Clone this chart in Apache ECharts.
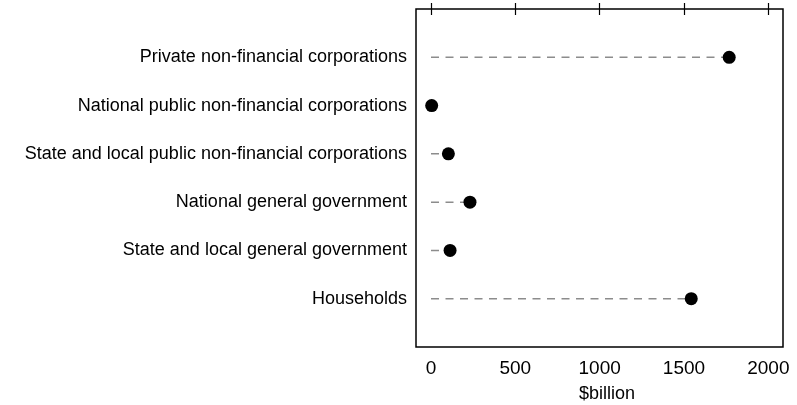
<!DOCTYPE html>
<html><head><meta charset="utf-8">
<script src="https://cdn.jsdelivr.net/npm/echarts@6/dist/echarts.min.js"></script>
<style>html,body{margin:0;padding:0;background:#fff}#c{width:797px;height:405px}</style>
</head><body><div id="c"></div>
<script>
const categories = [
  "Private non-financial corporations",
  "National public non-financial corporations",
  "State and local public non-financial corporations",
  "National general government",
  "State and local general government",
  "Households"
];
const values = [1768, 4, 103, 231, 113, 1543];
const xTicks = [0, 500, 1000, 1500, 2000];

const FONT = '"Liberation Sans", Arial, sans-serif';
const pts = values.map((v, i) => [v, i + 1]);

const chart = echarts.init(document.getElementById('c'), null, {renderer: 'canvas'});
chart.setOption({
  animation: false,
  grid: {left: 416, right: 14, top: 9, bottom: 58, show: true, borderColor: '#000', borderWidth: 1.5,
         containLabel: false, outerBoundsMode: 'none'},
  xAxis: [{
    type: 'value', min: -89, max: 2087, position: 'bottom',
    splitLine: {show: false},
    axisLine: {show: false},
    axisTick: {show: true, inside: false, length: 6, lineStyle: {color: '#000', width: 1.2}, customValues: xTicks},
    axisLabel: {show: true, customValues: xTicks, formatter: v => String(v), color: '#000', fontFamily: FONT, fontSize: 19, margin: 12},
    name: '$billion', nameLocation: 'middle', nameGap: 38,
    nameTextStyle: {color: '#000', fontFamily: FONT, fontSize: 18, padding: [0, 0, 0, 15]}
  }, {
    type: 'value', min: -89, max: 2087, position: 'top',
    splitLine: {show: false},
    axisLine: {show: false},
    axisTick: {show: true, inside: false, length: 6, lineStyle: {color: '#000', width: 1.2}, customValues: xTicks},
    axisLabel: {show: false}
  }],
  yAxis: {
    type: 'value', min: 0, max: 7, inverse: true,
    splitLine: {show: false}, axisLine: {show: false}, axisTick: {show: false},
    axisLabel: {
      show: true, customValues: categories.map((c, i) => i + 1),
      formatter: v => categories[v - 1] || '',
      color: '#000', fontFamily: FONT, fontSize: 18, margin: 9
    }
  },
  series: [{
    type: 'custom',
    renderItem: (params, api) => {
      const a = api.coord([0, api.value(1)]);
      const b = api.coord([api.value(0), api.value(1)]);
      return {type: 'line', shape: {x1: a[0], y1: a[1], x2: b[0], y2: b[1]},
        style: {stroke: '#8c8c8c', lineWidth: 1.5, lineDash: [8, 6.5]}};
    },
    data: pts, encode: {x: 0, y: 1}, z: 1
  }, {
    type: 'scatter', data: pts, symbol: 'circle', symbolSize: 13,
    itemStyle: {color: '#000', opacity: 1}, z: 2
  }]
});
</script></body></html>
